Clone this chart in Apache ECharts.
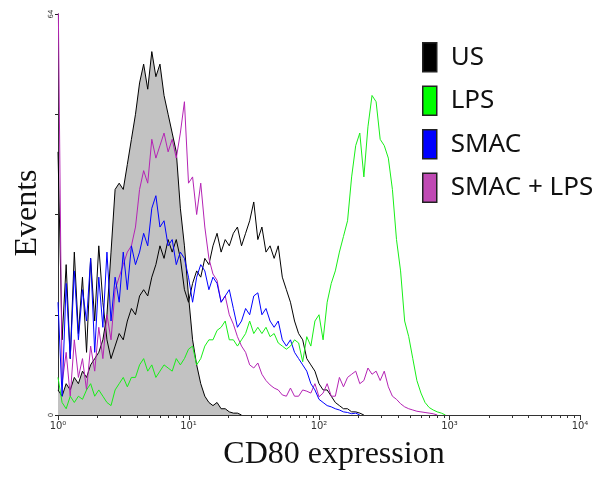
<!DOCTYPE html>
<html>
<head>
<meta charset="utf-8">
<script src="https://cdn.jsdelivr.net/npm/echarts@6/dist/echarts.min.js"></script>
<style>
html,body{margin:0;padding:0;background:#fff;}
#chart{width:607px;height:481px;}
</style>
</head>
<body>
<div id="chart"></div>
<script>
// Channels: 128 log channels spanning 10^0 .. 10^4 (32 per decade)
const channelCount = 128;
const decadeTicks = [1, 10, 100, 1000, 10000];
const minorTickValues = [2,3,4,5,6,7,8,9, 20,30,40,50,60,70,80,90, 200,300,400,500,600,700,800,900, 2000,3000,4000,5000,6000,7000,8000,9000];
const yTickLabels = [0, 64];

// Grey filled reference histogram (no legend entry)
const isoValues = [4,3,5,4,6,5,7,6,8,9,10,12,16,26,36,37,36,40,44,48,53,56,52,58,54,56,51,48,45,42,33,27,19,12,8,5,3,2,1.5,2,1,1,0.5,0.3,0.3,0];

const usValues = [42,12,24,9,26,13,22,10,25,15,27,18,12,9,11,13,12,15,17,16,19,20,19,22,24,27,25,28,26,28,25,20,18,21,23,22,25,24,27,29,26,28,27,29,30,27,29,31,34,28,30,26,27,25,27,22,20,18,15,13,12,9,8,7,5,4,4,3,2,1.5,1,1,0.5,0.5,0.3,0];

const lpsValues = [6,2,1,3,2,3,2.5,4,5,3,
  4,3,2,1.5,4,5,6,4.5,6,6,
  8,9,7,8,6,7,8,7.5,7,9,
  8,9,10.5,11,8,9,11,12,12,13.5,
  14,15,12,12,11,12,13,15,13,14,
  13,14,12.5,13,11.5,11,10.5,11,12,11.5,
  8.5,12.5,11,15,16,12,18,21,23,26,
  28.5,31,38,43,45,38,46,51,50,44,
  43,41,36,28,23,15,12.5,9,5.5,3.5,
  2,1.2,0.8,0.5,0.3,0];

const smacValues = [18,3,21,9,23,12,20,15,25,10,
  22,14,26,15,22,18,26,20,27,24,
  26,29,27,33,35,30,31,27,28,24,
  26,25,22,18,22,24,23,20,22,21,
  18,19,20,17,14,15,17,16,19,19.5,
  16,17,15,14,15,12,11,12,10,9,
  8,7,5,4,2.5,2,1.5,1.3,1,0.8,
  0.5,0.4,0.2,0.3,0];

const smacLpsValues = [70,5,10,3,12,6,9,4,11,7,
  14,9,16,12,20,22,24,26,27,30,
  36,39,37,44,41,43,45,42,44,41,
  45,50,37,38,32,37,30,25,22.5,21.5,
  18,19,16,14.5,12.5,11,10,8,7.5,8.3,
  6.5,5.5,4.8,4.3,4,3.2,3,4.3,3,3,
  4,3.8,3.5,5,2.9,3.5,5,3,3,6,
  4.5,6,6.5,7,5,5.5,7.5,6.5,7,5.5,
  7,4.5,3,2.5,1.8,1.3,1,0.8,0.6,0.5,
  0.4,0.3,0.2,0];

const seriesNames = ['US', 'LPS', 'SMAC', 'SMAC + LPS'];
const lineColors = {'US':'#000000','LPS':'#18ee18','SMAC':'#0000ff','SMAC + LPS':'#b424b4'};
const legendColors = {'US':'#000000','LPS':'#00ff00','SMAC':'#0000ff','SMAC + LPS':'#c04ab4'};

function toPairs(arr){ return arr.map((v,i)=>[i,v]); }
const sup = {'0':'\u2070','1':'\u00b9','2':'\u00b2','3':'\u00b3','4':'\u2074'};

const chart = echarts.init(document.getElementById('chart'), null, {renderer:'canvas'});

function lineSeries(name, values, z){
  return {
    name: name, type:'line', xAxisIndex:1, yAxisIndex:0,
    data: toPairs(values), showSymbol:false, symbol:'none',
    lineStyle:{color: lineColors[name], width:1},
    itemStyle:{color: legendColors[name]},
    clip:true, z:z, silent:true
  };
}

const tickData = decadeTicks.map(v=>[v,0]).concat(minorTickValues.map(v=>[v,0]));

const option = {
  animation:false,
  backgroundColor:'#ffffff',
  grid:{left:58, right:27, top:14, bottom:66, containLabel:false},
  xAxis:[
    {type:'log', logBase:10, min:decadeTicks[0], max:decadeTicks[decadeTicks.length-1], position:'bottom', z:10,
      axisLine:{show:true, onZero:false, lineStyle:{color:'#333', width:1.2}},
      axisTick:{show:false},
      minorTick:{show:false},
      splitLine:{show:false}, minorSplitLine:{show:false},
      axisLabel:{fontSize:10, color:'#333', margin:6, fontFamily:'DejaVu Sans',
        formatter:function(v){ const e = Math.round(Math.log10(v)); return '10' + sup[String(e)]; }}
    },
    {type:'value', min:0, max:channelCount, show:false, position:'top'}
  ],
  yAxis:{type:'value', min:0, max:64, interval:16,
    axisLine:{show:true, lineStyle:{color:'#333', width:1}},
    axisTick:{show:true, length:3, lineStyle:{color:'#222'}},
    splitLine:{show:false},
    axisLabel:{fontSize:7, color:'#333', margin:3, rotate:90, fontFamily:'DejaVu Sans',
      formatter:function(v){ return yTickLabels.indexOf(v) >= 0 ? String(v) : ''; }}
  },
  legend:{
    orient:'vertical', left:422, top:42, icon:'rect', itemWidth:14, itemHeight:29, itemGap:13,
    selectedMode:false, padding:0,
    lineStyle:{width:0, opacity:0},
    textStyle:{fontSize:26, color:'#111', fontFamily:'Noto Sans', padding:[0,0,0,9]},
    data: seriesNames.map(n=>({name:n, itemStyle:{color:legendColors[n], borderColor:'#222', borderWidth:1.5}}))
  },
  graphic:[
    {type:'text', x:28, y:213, rotation:Math.PI/2, silent:true,
      style:{text:'Events', font:'32px "Liberation Serif"', fill:'#111', textAlign:'center', textVerticalAlign:'middle'}},
    {type:'text', x:334, y:455, silent:true,
      style:{text:'CD80 expression', font:'32px "Liberation Serif"', fill:'#111', textAlign:'center', textVerticalAlign:'middle'}}
  ],
  series:[
    {name:'ISO', type:'line', xAxisIndex:1, yAxisIndex:0, data:toPairs(isoValues), showSymbol:false, symbol:'none',
      lineStyle:{color:'#000', width:1}, areaStyle:{color:'#c2c2c2', opacity:1}, z:1, silent:true},
    lineSeries('US', usValues, 2),
    lineSeries('SMAC + LPS', smacLpsValues, 3),
    lineSeries('SMAC', smacValues, 4),
    lineSeries('LPS', lpsValues, 5),
    {name:'ticks', type:'custom', xAxisIndex:0, yAxisIndex:0, data:tickData, clip:false, silent:true, z:10,
      renderItem:function(params, api){
        const v = api.value(0);
        const p = api.coord([v, 0]);
        const isMajor = decadeTicks.indexOf(v) >= 0;
        const x = Math.round(p[0]) + 0.5;
        return {type:'line', shape:{x1:x, y1:p[1], x2:x, y2:p[1] + (isMajor ? 5 : 3)},
          style:{stroke:'#333', lineWidth:1}};
      }}
  ]
};
chart.setOption(option);
</script>
</body>
</html>
